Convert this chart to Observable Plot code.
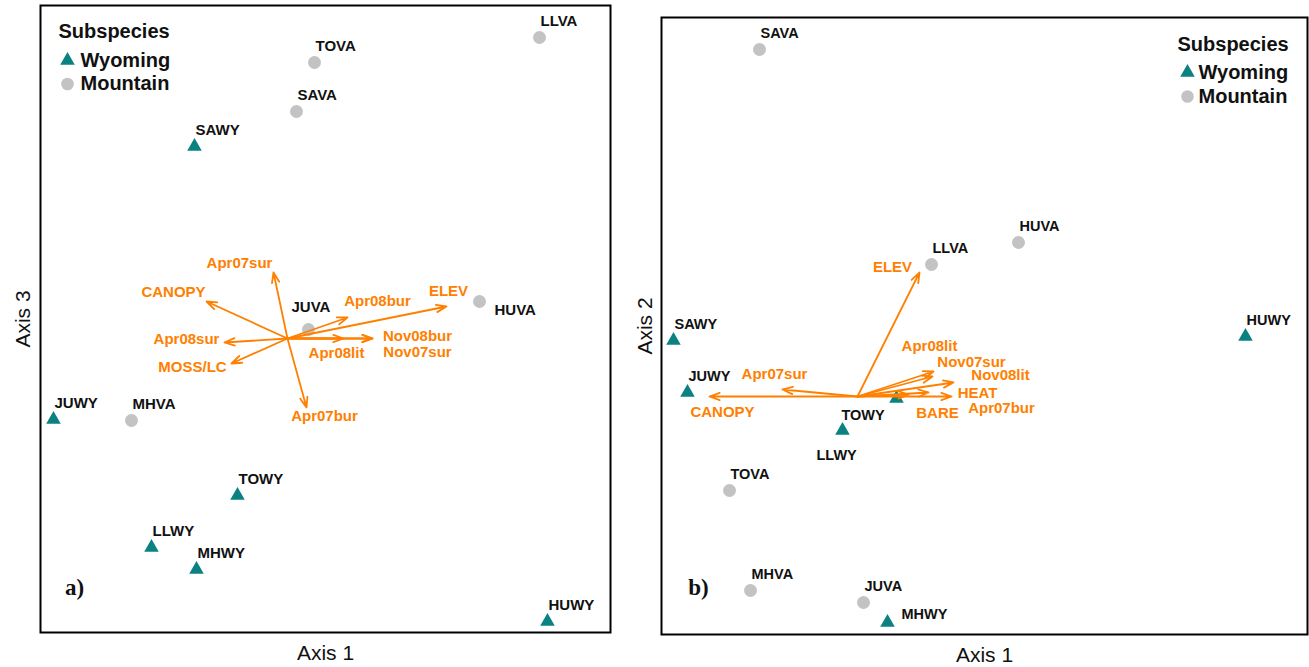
<!DOCTYPE html>
<html>
<head>
<meta charset="utf-8">
<script src="https://cdn.jsdelivr.net/npm/d3@7"></script>
<script src="https://cdn.jsdelivr.net/npm/@observablehq/plot@0.6"></script>
<style>
  body { margin: 0; background: #fff; }
  #fig { position: relative; width: 1309px; height: 667px; overflow: hidden; }
  #fig > svg { position: absolute; top: 0; }
</style>
</head>
<body>
<div id="fig"></div>
<script>
// ---- Panel a: site scores on ordination axes 1 and 3 ----
const sitesA = ["LLVA", "TOVA", "SAVA", "SAWY", "JUVA", "HUVA", "JUWY", "MHVA", "TOWY", "LLWY", "MHWY", "HUWY"];
const axis1A = [1.26, 0.135, 0.045, -0.465, 0.105, 0.96, -1.17, -0.78, -0.25, -0.68, -0.455, 1.30];
const axis3A = [1.505, 1.38, 1.135, 0.96, 0.045, 0.185, -0.405, -0.41, -0.785, -1.045, -1.155, -1.415];

// Environmental vectors (biplot) for panel a
const varsA = ["Apr07sur", "CANOPY", "Apr08bur", "ELEV", "Apr08sur", "MOSS/LC", "Nov08bur", "Nov07sur", "Apr08lit", "Apr07bur"];
const vecA1 = [-0.07, -0.405, 0.30, 0.795, -0.315, -0.28, 0.425, 0.425, 0.28, 0.095];
const vecA3 = [0.33, 0.185, 0.105, 0.16, -0.02, -0.125, 0, 0, 0, -0.345];

// ---- Panel b: site scores on ordination axes 1 and 2 ----
const sitesB = ["SAVA", "HUVA", "LLVA", "HUWY", "SAWY", "JUWY", "TOWY", "LLWY", "TOVA", "MHVA", "JUVA", "MHWY"];
const axis1B = [-0.49, 0.805, 0.37, 1.94, -0.92, -0.85, 0.195, -0.075, -0.64, -0.535, 0.03, 0.15];
const axis2B = [1.735, 0.77, 0.66, 0.30, 0.28, 0.02, -0.01, -0.17, -0.47, -0.97, -1.03, -1.13];

// Environmental vectors (biplot) for panel b
const varsB = ["ELEV", "Apr07sur", "CANOPY", "Apr08lit", "Nov07sur", "Nov08lit", "HEAT", "Apr07bur", "BARE"];
const vecB1 = [0.31, -0.375, -0.74, 0.38, 0.375, 0.48, 0.355, 0.47, 0.255];
const vecB2 = [0.62, 0.035, 0, 0.125, 0.10, 0.07, 0.02, 0, 0.01];

const subspeciesNames = ["Wyoming", "Mountain"];
const legendTitle = "Subspecies";

const TEAL = "#0b8281";
const GREY = "#c3c3c3";
const ORANGE = "#ff8000";
const SANS = "'Liberation Sans', Arial, Helvetica, sans-serif";
const SERIF = "'Liberation Serif', 'Times New Roman', serif";

const subspeciesOf = (site) => site.endsWith("WY") ? "Wyoming" : "Mountain";

function panel(cfg) {
  const pts = cfg.sites.map((s, i) => ({site: s, subspecies: subspeciesOf(s), x: cfg.xs[i], y: cfg.ys[i]}));
  const vecs = cfg.vars.map((v, i) => ({name: v, x: cfg.vx[i], y: cfg.vy[i]}));
  const marks = [];

  marks.push(Plot.frame({stroke: "#000", strokeWidth: 2}));

  // site symbols
  marks.push(Plot.dot(pts.filter(d => d.subspecies === "Mountain"), {x: "x", y: "y", r: 6.5, fill: GREY}));
  marks.push(Plot.dot(pts.filter(d => d.subspecies === "Wyoming"), {x: "x", y: "y", symbol: "triangle", r: 5.4, fill: TEAL}));

  // environmental vectors from the origin
  marks.push(Plot.arrow(vecs, {
    x1: () => 0, y1: () => 0, x2: "x", y2: "y",
    stroke: ORANGE, strokeWidth: 1.8, headLength: 9, headAngle: 40
  }));

  // site labels, placed above-right unless nudged
  for (const d of pts) {
    const [dx, dy] = cfg.siteNudge[d.site] ?? [1, -16];
    marks.push(Plot.text([d], {
      x: "x", y: "y", text: "site", dx, dy, textAnchor: "start", lineAnchor: "middle",
      fontWeight: "bold", fontSize: cfg.siteSize, fill: "#111"
    }));
  }

  // vector labels
  for (const d of vecs) {
    const [dx, dy] = cfg.varNudge[d.name];
    marks.push(Plot.text([d], {
      x: "x", y: "y", text: "name", dx, dy, textAnchor: "middle", lineAnchor: "middle",
      fontWeight: "bold", fontSize: 15, fill: ORANGE
    }));
  }

  // legend
  const L = cfg.legend;
  marks.push(Plot.text([legendTitle], {
    frameAnchor: "top-left", dx: L.titleX, dy: L.titleY, text: d => d,
    textAnchor: "start", lineAnchor: "middle", fontWeight: "bold", fontSize: 20, fill: "#111"
  }));
  subspeciesNames.forEach((name, i) => {
    const yy = L.rowY + i * L.rowStep;
    marks.push(Plot.dot([name], {
      frameAnchor: "top-left", dx: L.symX, dy: yy,
      symbol: name === "Wyoming" ? "triangle" : "circle",
      r: name === "Wyoming" ? 5.4 : 6.3,
      fill: name === "Wyoming" ? TEAL : GREY
    }));
    marks.push(Plot.text([name], {
      frameAnchor: "top-left", dx: L.textX, dy: yy, text: d => d,
      textAnchor: "start", lineAnchor: "middle", fontWeight: "bold", fontSize: 20, fill: "#111"
    }));
  });

  // axis titles
  marks.push(Plot.text([cfg.xTitle], {
    frameAnchor: "bottom", dy: 21, text: d => d,
    textAnchor: "middle", lineAnchor: "middle", fontSize: 21, fill: "#111"
  }));
  marks.push(Plot.text([cfg.yTitle], {
    frameAnchor: "left", dx: cfg.yTitleDx, rotate: -90, text: d => d,
    textAnchor: "middle", lineAnchor: "middle", fontSize: 21, fill: "#111"
  }));

  // panel tag
  marks.push(Plot.text([cfg.tag], {
    frameAnchor: "bottom-left", dx: cfg.tagDx, dy: cfg.tagDy, text: d => d,
    textAnchor: "middle", lineAnchor: "middle",
    fontFamily: SERIF, fontWeight: "bold", fontSize: 23, fill: "#111"
  }));

  const svg = Plot.plot({
    width: cfg.width,
    height: cfg.height,
    marginLeft: cfg.margins[0],
    marginRight: cfg.margins[1],
    marginTop: cfg.margins[2],
    marginBottom: cfg.margins[3],
    x: {domain: cfg.xDomain, axis: null},
    y: {domain: cfg.yDomain, axis: null},
    style: {fontFamily: SANS, background: "transparent", overflow: "visible"},
    marks
  });
  svg.style.left = cfg.left + "px";
  return svg;
}

const fig = document.getElementById("fig");

fig.append(panel({
  sites: sitesA, xs: axis1A, ys: axis3A,
  vars: varsA, vx: vecA1, vy: vecA3,
  xDomain: [-1.235, 1.615], yDomain: [-1.47, 1.665],
  left: 0, width: 620, height: 667, margins: [40, 10, 5, 35],
  xTitle: "Axis 1", yTitle: "Axis 3", yTitleDx: -17,
  tag: "a)", tagDx: 34, tagDy: -45,
  siteSize: 15,
  siteNudge: {JUVA: [-17, -22], HUVA: [15, 9]},
  varNudge: {
    "Apr07sur": [-34, -9], "CANOPY": [-33, -9], "Apr08bur": [30, -16], "ELEV": [2, -15],
    "Apr08sur": [-38, -3], "MOSS/LC": [-39, 4], "Nov08bur": [45, -2], "Nov07sur": [45, 14],
    "Apr08lit": [-7, 15], "Apr07bur": [18, 9]
  },
  legend: {titleX: 18, titleY: 26, symX: 27, textX: 40, rowY: 55, rowStep: 23.5}
}));

fig.append(panel({
  sites: sitesB, xs: axis1B, ys: axis2B,
  vars: varsB, vx: vecB1, vy: vecB2,
  xDomain: [-0.98, 2.25], yDomain: [-1.19, 1.895],
  left: 620, width: 689, height: 667, margins: [41, 2, 17, 33],
  xTitle: "Axis 1", yTitle: "Axis 2", yTitleDx: -16,
  tag: "b)", tagDx: 37, tagDy: -47,
  siteSize: 14.5,
  siteNudge: {TOWY: [-55, 17], LLWY: [-26, 25], MHWY: [14, -8]},
  varNudge: {
    "ELEV": [-27, -5], "Apr07sur": [-8, -15], "CANOPY": [13, 16], "Apr08lit": [-4, -25],
    "Nov07sur": [39, -14], "Nov08lit": [47, -7], "HEAT": [49, 1], "Apr07bur": [50, 12],
    "BARE": [29, 19]
  },
  legend: {titleX: 516, titleY: 27, symX: 526, textX: 537, rowY: 55, rowStep: 24}
}));
</script>
</body>
</html>
